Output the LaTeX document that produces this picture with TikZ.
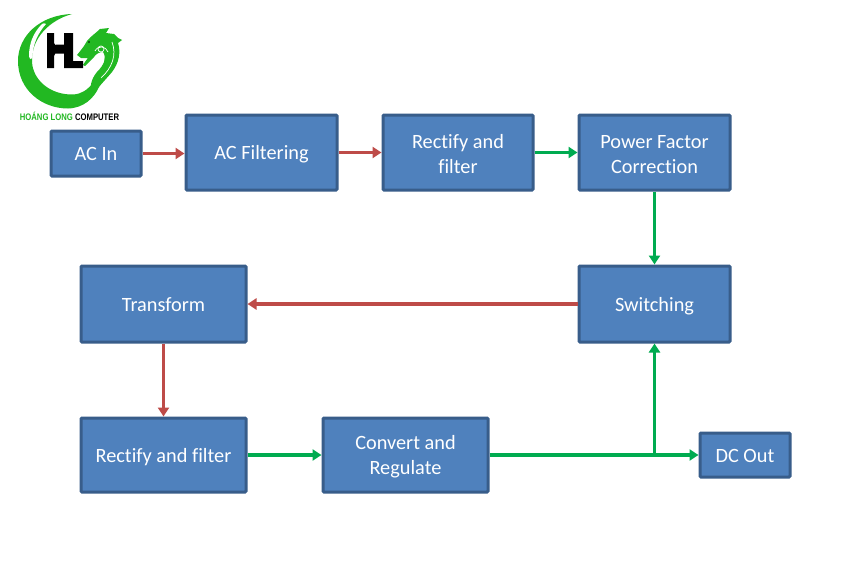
\documentclass[tikz,border=0pt]{standalone}
\usepackage{fontspec}
\setmainfont[Ligatures=NoCommon]{Carlito}
\newfontfamily\logofont{Liberation Sans}
\usetikzlibrary{arrows.meta}
\definecolor{boxfill}{HTML}{4F81BD}
\definecolor{boxline}{HTML}{385D8A}
\definecolor{redline}{HTML}{BE4B48}
\definecolor{greenline}{HTML}{00AB50}
\definecolor{logogreen}{HTML}{22B822}
\tikzset{
  blockbox/.style={draw=boxline,fill=boxfill,line width=3pt,rounded corners=1pt,text=white,
    font=\fontsize{20.3}{25}\selectfont,align=center,inner sep=0pt},
  oneline/.style={blockbox,text height=17.5pt,text depth=3pt},
  redarrow/.style={draw=redline,line width=3.6pt,-{Triangle[length=9pt,width=11pt]}},
  greenarrow/.style={draw=greenline,line width=3.6pt,-{Triangle[length=9pt,width=11pt]}},
  greentrunk/.style={draw=greenline,line width=4.4pt},
}
\begin{document}
\begin{tikzpicture}[x=1pt,y=-1pt]
\useasboundingbox (0,0) rectangle (855,570);
\fill[white] (0,0) rectangle (855,570);
% boxes
\node[oneline,minimum width=90pt,minimum height=45pt] (acin) at (96,153.5) {AC In};
\node[oneline,minimum width=151pt,minimum height=75pt] (acfilter) at (261.5,152.5) {AC Filtering};
\node[blockbox,minimum width=150pt,minimum height=75pt] (rect1) at (458,152.5) {\\[-7.5pt]Rectify and\\filter};
\node[blockbox,minimum width=151pt,minimum height=75pt] (pfc) at (654.5,152.5) {\\[-7.5pt]Power Factor\\Correction};
\node[oneline,minimum width=151pt,minimum height=76pt] (switch) at (654.5,304) {Switching};
\node[oneline,minimum width=165pt,minimum height=76pt] (transform) at (163.5,304) {Transform};
\node[oneline,minimum width=165pt,minimum height=74pt] (rect2) at (163.5,455) {Rectify and filter};
\node[blockbox,minimum width=165pt,minimum height=74pt] (convert) at (405.5,455) {\\[-7.5pt]Convert and\\Regulate};
\node[oneline,minimum width=90pt,minimum height=44pt] (dcout) at (745,455) {DC Out};
\coordinate (junction) at (654.5,455);
% connectors
\draw[redarrow] (acin.east) -- (acfilter.west |- acin.east);
\draw[redarrow] (acfilter.east) -- (rect1.west);
\draw[greenarrow] (rect1.east) -- (pfc.west);
\draw[greenarrow] (pfc.south) -- (switch.north);
\draw[redarrow] (switch.west) -- (transform.east);
\draw[redarrow] (transform.south) -- (rect2.north);
\draw[greenarrow] (rect2.east) -- (convert.west);
\draw[greentrunk] (convert.east) -- (junction);
\draw[greenarrow] (junction) -- (dcout.west);
\draw[greenarrow] (junction) -- (switch.south);
% logo ring
\fill[logogreen] (72,14)
  .. controls (40,15) and (18,36) .. (18,61)
  .. controls (18,90) and (42,108.5) .. (68,108.5)
  .. controls (84,108) and (94,98) .. (99,87)
  -- (93,83)
  .. controls (87,90) and (82,94) .. (73,94.5)
  .. controls (50,95) and (33,80) .. (32,62)
  .. controls (31,38) and (50,20) .. (72,14) -- cycle;
\fill[white] (42,24) .. controls (33,33) and (29,44) .. (29,56)
  .. controls (29.5,60) and (32,60) .. (32.5,56)
  .. controls (33,44) and (38,33) .. (46,24)
  .. controls (45,23) and (43,23) .. (42,24) -- cycle;
% dragon
\fill[logogreen] (77,55) -- (81,50) -- (84,46) -- (87,41)
  .. controls (91,36) and (96,33) .. (100,29) -- (109,28) -- (106,33) -- (114,34) -- (118,38) -- (122,40)
  -- (118,43)
  .. controls (121,52) and (119,63) .. (112,72)
  .. controls (107,78) and (102,83) .. (99,87)
  .. controls (95,89) and (93,93) .. (92,96)
  .. controls (89,88) and (91,79) .. (97,72)
  .. controls (104,65) and (107,58) .. (103,52)
  .. controls (99,52) and (96,54) .. (94,57)
  .. controls (91,60) and (88,63) .. (85,66) -- (83,65)
  .. controls (85,62) and (86,60) .. (88,58)
  -- (81,58) -- cycle;
\draw[white,line width=0.7pt] (95,51) .. controls (98,45) and (106,46) .. (108,52);
\draw[white,line width=0.7pt] (101,49) circle (3pt);
\draw[white,line width=0.7pt] (112,42) .. controls (117,55) and (112,68) .. (101,78);
\fill[black] (89,42) circle (0.9pt);
% HL
\fill[black] (47,33) -- (54,33) -- (54,43)
  .. controls (54,46) and (56,44.5) .. (58,44.5) -- (64,44.5) -- (64,33) -- (73,33) -- (73,61) -- (83,61) -- (83,68) -- (64,68) -- (64,53.5)
  -- (58,53.5) .. controls (56,53.5) and (54,53) .. (54,56) -- (54,68) -- (47,68) -- cycle;
\node[font=\logofont\bfseries\fontsize{10}{10}\selectfont,inner sep=0pt,xscale=0.77,yscale=0.95] (logotext) at (69.5,116.5) {\textcolor{logogreen}{HOÁNG LONG} COMPUTER};
\end{tikzpicture}
\end{document}
